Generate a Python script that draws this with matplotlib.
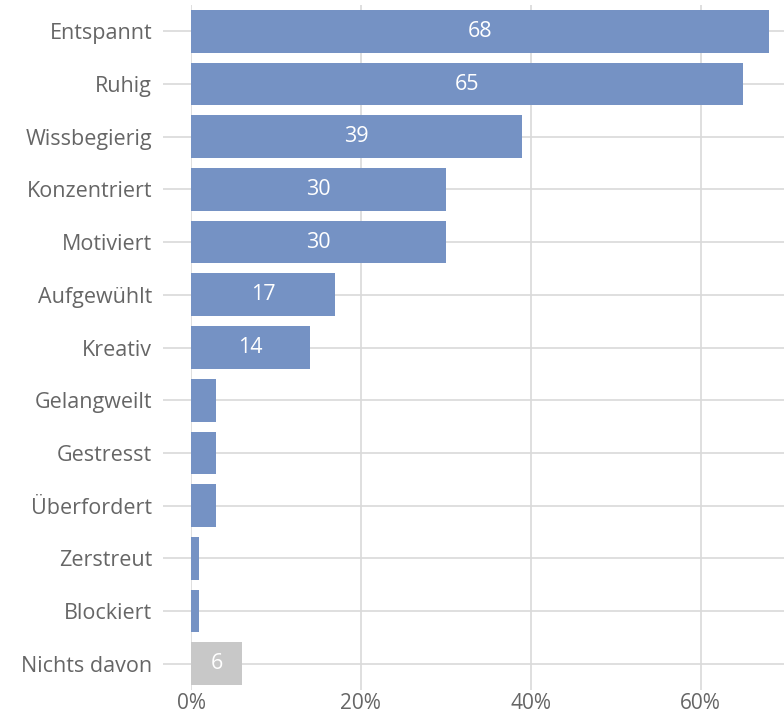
import matplotlib.pyplot as plt

plt.rcParams['font.family'] = ['Open Sans', 'DejaVu Sans']

# Antworten und Anteile in Prozent
categories = ['Entspannt', 'Ruhig', 'Wissbegierig', 'Konzentriert', 'Motiviert',
              'Aufgewühlt', 'Kreativ', 'Gelangweilt', 'Gestresst', 'Überfordert',
              'Zerstreut', 'Blockiert', 'Nichts davon']
values = [68, 65, 39, 30, 30, 17, 14, 3, 3, 3, 1, 1, 6]
labeled = [True, True, True, True, True, True, True, False, False, False, False, False, True]
colors = ['#7592c4'] * 12 + ['#c8c8c8']

grid_col = '#d9d9d9'
text_col = '#666666'

fig = plt.figure(figsize=(7.84, 7.17), dpi=100)
ax = fig.add_axes([191 / 784, 1 - 690 / 717, 1 - 191 / 784, (690 - 5) / 717])

y = list(range(len(categories)))
bars = ax.barh(y, values, height=0.81, color=colors, zorder=2)

for b, v, show in zip(bars, values, labeled):
    if show:
        ax.text(b.get_width() / 2, b.get_y() + b.get_height() / 2, str(v),
                ha='center', va='center', color='white', fontsize=15.5, zorder=3)

ax.set_xlim(0, 69.8)
ax.set_ylim(12.5, -0.5)
ax.set_yticks(y)
ax.set_yticklabels(categories)
ax.set_xticks([0, 20, 40, 60])
ax.set_xticklabels(['0%', '20%', '40%', '60%'])

ax.grid(True, color=grid_col, linewidth=1.2, zorder=0)
ax.set_axisbelow(True)
for s in ax.spines.values():
    s.set_visible(False)

ax.tick_params(axis='y', length=20, width=1.2, color=grid_col, pad=8,
               labelsize=15.5, labelcolor=text_col)
ax.tick_params(axis='x', length=0, pad=2, labelsize=15, labelcolor=text_col)

fig.savefig('out.png', dpi=100)
